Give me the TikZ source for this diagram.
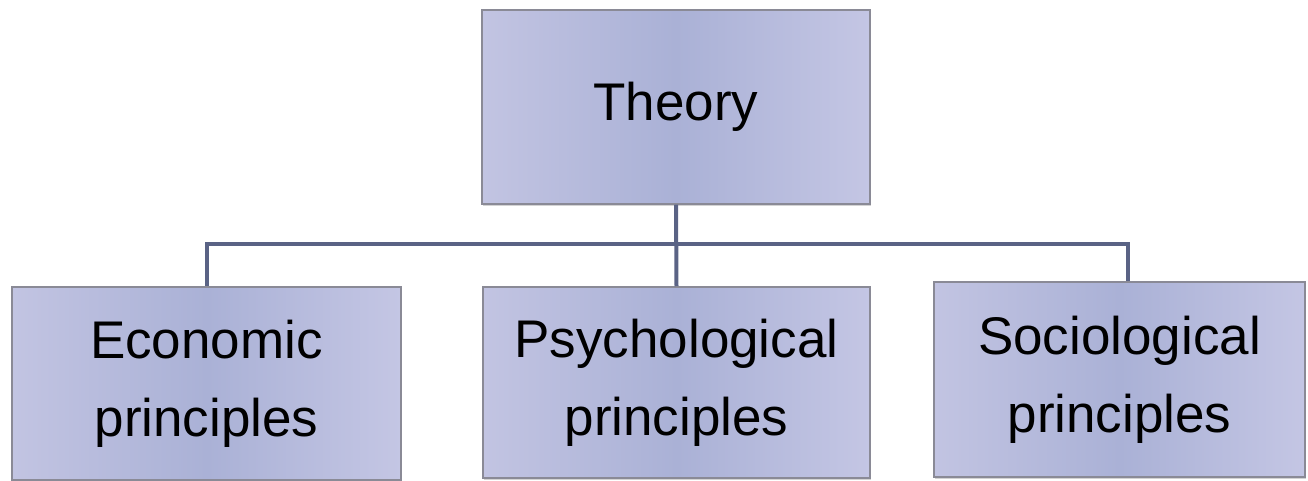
\documentclass[tikz,border=0pt]{standalone}
\usepackage{fontspec}
\setmainfont{Liberation Sans}
\usepackage{tikz}
\usetikzlibrary{positioning,shadows}
\definecolor{boxedge}{RGB}{138,138,150}
\definecolor{boxleft}{RGB}{194,196,226}
\definecolor{boxmid}{RGB}{170,177,214}
\definecolor{boxright}{RGB}{196,198,228}
\definecolor{linkblue}{RGB}{90,99,133}
\tikzset{
    theorybox/.style={
        draw=boxedge,
        line width=0.75pt,
        left color=boxleft,
        right color=boxright,
        middle color=boxmid,
        drop shadow={shadow xshift=0.6pt,shadow yshift=-1.2pt,opacity=0.35},
        align=center,
        inner sep=0pt,
        font=\fontsize{26.5}{39}\selectfont
    },
    % lines from the top box down to the three principles
    linkline/.style={
        line width=2pt,
        linkblue
    }
}

\begin{document}
\begin{tikzpicture}[x=0.5pt,y=0.5pt]
    \useasboundingbox (0,0) rectangle (1308,481);
    \node[theorybox,minimum width=194pt,minimum height=97pt] (theory) at (676,374) {Theory};
    \node[theorybox,minimum width=194.5pt,minimum height=96.5pt] (econ) at (206.5,97.5) {Economic\\principles};
    \node[theorybox,minimum width=193.5pt,minimum height=95.5pt] (psych) at (676.5,98.5) {Psychological\\principles};
    \node[theorybox,minimum width=185.5pt,minimum height=97.5pt] (socio) at (1119.5,101.5) {Sociological\\principles};
    \coordinate (bus) at (676,237);
    \coordinate (sociotop) at ([xshift=4.25pt]socio.north);
    \draw[linkline] (theory.south) -- (psych.north);
    \draw[linkline] (bus) -| (econ.north);
    \draw[linkline] (bus) -| (sociotop);
\end{tikzpicture}
\end{document}
